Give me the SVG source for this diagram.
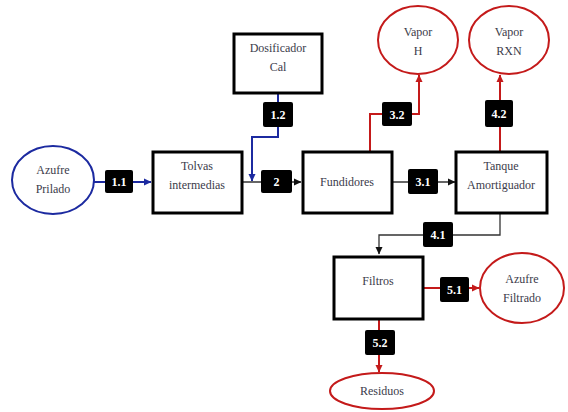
<svg xmlns="http://www.w3.org/2000/svg" width="568" height="412" viewBox="0 0 568 412">
  <defs>
    <marker id="ah-black" markerWidth="8" markerHeight="8" refX="7" refY="4" orient="auto" markerUnits="userSpaceOnUse">
      <path d="M0,0.5 L7.5,4 L0,7.5 Z" fill="#111"/>
    </marker>
    <marker id="ah-blue" markerWidth="8" markerHeight="8" refX="7" refY="4" orient="auto" markerUnits="userSpaceOnUse">
      <path d="M0,0.5 L7.5,4 L0,7.5 Z" fill="#1c2aa0"/>
    </marker>
    <marker id="ah-red" markerWidth="8" markerHeight="8" refX="7" refY="4" orient="auto" markerUnits="userSpaceOnUse">
      <path d="M0,0.5 L7.5,4 L0,7.5 Z" fill="#c41a1a"/>
    </marker>
  </defs>
  <style>
    .box { fill: #fff; stroke: #000; stroke-width: 3; }
    .in { fill: #fff; stroke: #1c2aa0; stroke-width: 2; }
    .out { fill: #fff; stroke: #c41a1a; stroke-width: 2; }
    text { font-family: 'Liberation Serif', 'DejaVu Serif', serif; }
    .txt { font-size: 12px; fill: #3b3b4a; text-anchor: middle; }
    .tag { fill: #000; }
    .tagtxt { font-size: 12px; font-weight: bold; fill: #fff; text-anchor: middle; }
    .blk { fill: none; stroke: #333; stroke-width: 1.3; }
    .blu { fill: none; stroke: #1c2aa0; stroke-width: 2; }
    .red { fill: none; stroke: #c41a1a; stroke-width: 2; }
  </style>
  <rect width="568" height="412" fill="#fff"/>

  <!-- streams -->
  <g id="connectors">
    <path class="blu" d="M94,182 H151" marker-end="url(#ah-blue)"/>
    <path class="blu" d="M278,93 V137 H252 V181" marker-end="url(#ah-blue)"/>
    <path class="blk" d="M242,182 H301" marker-end="url(#ah-black)"/>
    <path class="blk" d="M392,182 H455" marker-end="url(#ah-black)"/>
    <path class="red" d="M370,151 V114 H419 V75" marker-end="url(#ah-red)"/>
    <path class="red" d="M500,151 V75" marker-end="url(#ah-red)"/>
    <path class="blk" d="M500,213 V235 H379 V254" marker-end="url(#ah-black)"/>
    <path class="red" d="M423,288 H479" marker-end="url(#ah-red)"/>
    <path class="red" d="M379,319 V372" marker-end="url(#ah-red)"/>
  </g>

  <!-- stream tags -->
  <g id="tags">
    <rect class="tag" x="105" y="170" width="28" height="23" rx="2"/>
    <text class="tagtxt" x="119" y="186">1.1</text>
    <rect class="tag" x="263" y="102" width="30" height="25" rx="2"/>
    <text class="tagtxt" x="278" y="119">1.2</text>
    <rect class="tag" x="261" y="170" width="31" height="23" rx="2"/>
    <text class="tagtxt" x="276.5" y="186">2</text>
    <rect class="tag" x="408" y="169" width="30" height="25" rx="2"/>
    <text class="tagtxt" x="423" y="186">3.1</text>
    <rect class="tag" x="382" y="102" width="30" height="24" rx="2"/>
    <text class="tagtxt" x="397" y="119">3.2</text>
    <rect class="tag" x="423" y="222" width="30" height="25" rx="2"/>
    <text class="tagtxt" x="438" y="239">4.1</text>
    <rect class="tag" x="485" y="100" width="28" height="27" rx="2"/>
    <text class="tagtxt" x="499" y="118">4.2</text>
    <rect class="tag" x="440" y="277" width="29" height="25" rx="2"/>
    <text class="tagtxt" x="454.5" y="294">5.1</text>
    <rect class="tag" x="365" y="330" width="30" height="25" rx="2"/>
    <text class="tagtxt" x="380" y="347">5.2</text>
  </g>

  <!-- feed streams -->
  <g id="azufre-prilado">
    <ellipse class="in" cx="53" cy="180" rx="41" ry="34"/>
    <text class="txt" x="53" y="174">Azufre</text>
    <text class="txt" x="53" y="193">Prilado</text>
  </g>

  <!-- process units -->
  <g id="dosificador-cal">
    <rect class="box" x="234" y="34" width="88" height="59"/>
    <text class="txt" x="278" y="52">Dosificador</text>
    <text class="txt" x="278" y="71">Cal</text>
  </g>
  <g id="tolvas">
    <rect class="box" x="153" y="152" width="89" height="61"/>
    <text class="txt" x="197" y="170">Tolvas</text>
    <text class="txt" x="197" y="189">intermedias</text>
  </g>
  <g id="fundidores">
    <rect class="box" x="303" y="152" width="89" height="61"/>
    <text class="txt" x="347" y="186">Fundidores</text>
  </g>
  <g id="tanque">
    <rect class="box" x="456" y="152" width="91" height="61"/>
    <text class="txt" x="501" y="170">Tanque</text>
    <text class="txt" x="501" y="189">Amortiguador</text>
  </g>
  <g id="filtros">
    <rect class="box" x="334" y="257" width="89" height="62"/>
    <text class="txt" x="378" y="285">Filtros</text>
  </g>

  <!-- product streams -->
  <g id="vapor-h">
    <ellipse class="out" cx="418" cy="40" rx="40" ry="34"/>
    <text class="txt" x="418" y="36">Vapor</text>
    <text class="txt" x="418" y="55">H</text>
  </g>
  <g id="vapor-rxn">
    <ellipse class="out" cx="509" cy="40" rx="40" ry="34"/>
    <text class="txt" x="509" y="36">Vapor</text>
    <text class="txt" x="509" y="55">RXN</text>
  </g>
  <g id="azufre-filtrado">
    <ellipse class="out" cx="522" cy="288" rx="42" ry="35"/>
    <text class="txt" x="522" y="283">Azufre</text>
    <text class="txt" x="522" y="302">Filtrado</text>
  </g>
  <g id="residuos">
    <ellipse class="out" cx="382" cy="391" rx="52" ry="18"/>
    <text class="txt" x="382" y="395">Residuos</text>
  </g>
</svg>
